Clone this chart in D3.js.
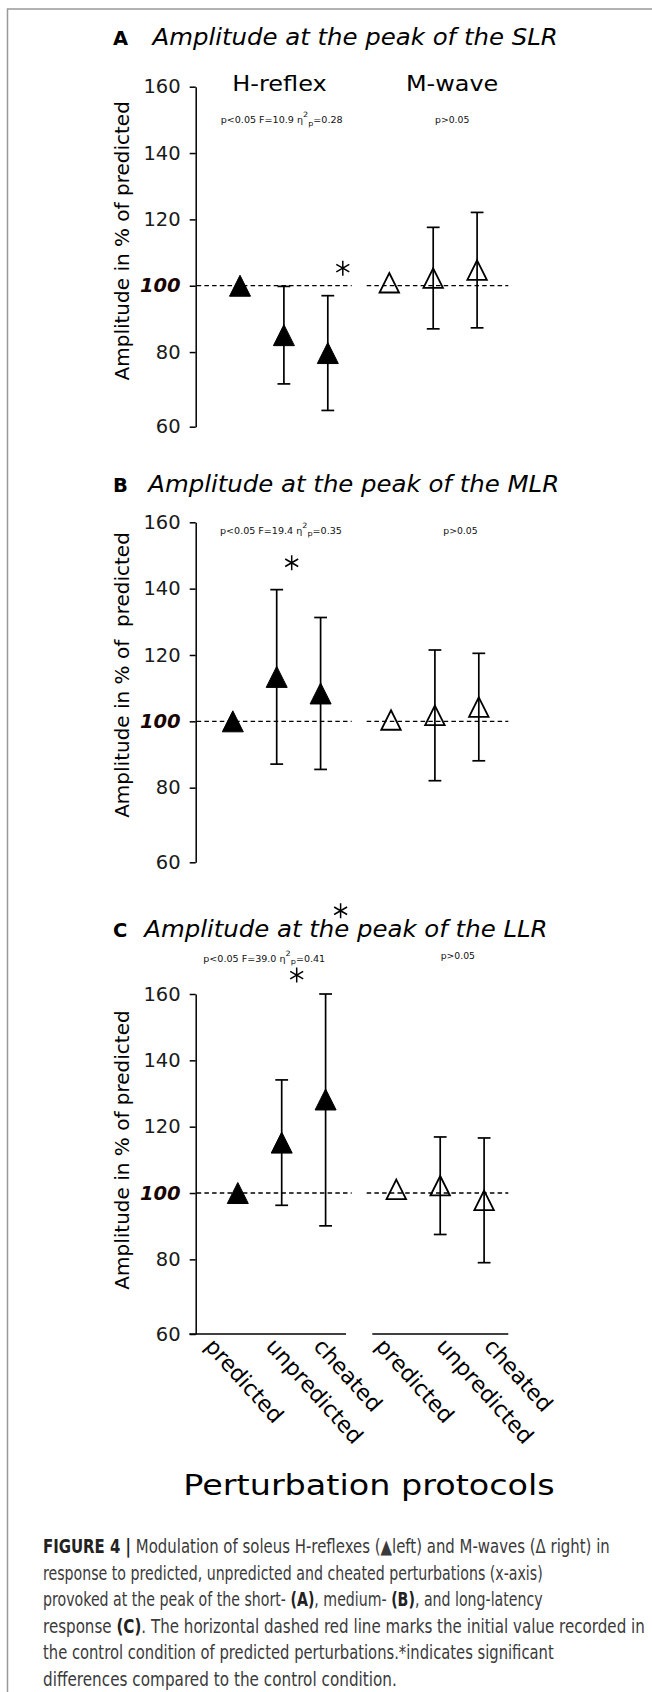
<!DOCTYPE html>
<html>
<head>
<meta charset="utf-8">
<script src="https://cdn.jsdelivr.net/npm/d3@7"></script>
<style>
  body { margin: 0; background: #fff; }
  svg { display: block; }
  text { font-family: "DejaVu Sans", sans-serif; }
</style>
</head>
<body>
<div id="holder"></div>
<script>
const w = 652;
const h = 1692;

// DATA
const groups = ["H-reflex", "M-wave"];
const conditions = ["predicted", "unpredicted", "cheated"];
const panelLetters = ["A", "B", "C"];
const titles = ["Amplitude at the peak of the SLR", "Amplitude at the peak of the MLR", "Amplitude at the peak of the LLR"];
const yLabels = ["Amplitude in % of predicted", "Amplitude in % of  predicted", "Amplitude in % of predicted"];

// means and half error bars, order: predicted, unpredicted, cheated
const hMeanA = [100, 85.1, 79.7];
const hErrA = [0, 14.7, 17.3];
const mMeanA = [100.9, 102.3, 104.7];
const mErrA = [0, 15.3, 17.4];

const hMeanB = [100, 113.4, 108.4];
const hErrB = [0, 26.3, 22.9];
const mMeanB = [100.4, 101.8, 104.3];
const mErrB = [0, 19.7, 16.2];

const hMeanC = [100, 115.2, 128.2];
const hErrC = [0, 18.9, 38.1];
const mMeanC = [101.1, 102.2, 97.8];
const mErrC = [0, 14.7, 18.8];

// significance stars (H-reflex), [condition, value]
const starsA = [["cheated", 105.3]];
const starsB = [["unpredicted", 147.8]];
const starsC = [["unpredicted", 165.7], ["cheated", 185.1]];

// stats
const statF = ["10.9", "19.4", "39.0"];
const statEta = ["0.28", "0.35", "0.41"];
const statM = "p>0.05";

// y axis
const yMin = 57.5;
const yMax = 160;
const refValue = 100;
const yTickValues = [57.5, 80, 100, 120, 140, 160];
const yTickLabels = ["60", "80", "100", "120", "140", "160"];

const xTitle = "Perturbation protocols";
const caption = [
  "**FIGURE 4 |** Modulation of soleus H-reflexes (▲left) and M-waves (Δ right) in",
  "response to predicted, unpredicted and cheated perturbations (x-axis)",
  "provoked at the peak of the short- **(A)**, medium- **(B)**, and long-latency",
  "response **(C)**. The horizontal dashed red line marks the initial value recorded in",
  "the control condition of predicted perturbations.*indicates significant",
  "differences compared to the control condition."
];

const panelData = [
  { h: hMeanA, he: hErrA, m: mMeanA, me: mErrA, stars: starsA },
  { h: hMeanB, he: hErrB, m: mMeanB, me: mErrB, stars: starsB },
  { h: hMeanC, he: hErrC, m: mMeanC, me: mErrC, stars: starsC }
];

// LAYOUT
const axisX = 195.7;
const axisLen = 340;
const panelTop = [86.7, 522.3, 994];
const hStart = [240, 232.8, 237.8];
const mStart = [389.3, 391, 396.3];
const step = 43.9;
const dashH = [196.7, 351.7];
const dashM = [366.7, 508.3];
const titleX = [152.5, 148.3, 144.2];
const titleY = [45, 491.7, 936.7];
const letterX = 113;
const statHX = [220.7, 220, 203.3];
const statHY = [123.3, 534, 961.7];
const statMX = [435, 443.3, 440.7];
const statMY = [123.3, 534, 959.3];
const yLabelY = [240.8, 675, 1150];

// CREATE SVG
const svg = d3.select("#holder")
    .append("svg")
    .attr("width", w)
    .attr("height", h);

svg.append("rect").attr("width", w).attr("height", h).attr("fill", "#fff");

// frame
svg.append("path")
    .attr("d", "M7.5," + h + "V9H" + w)
    .attr("fill", "none")
    .attr("stroke", "#999")
    .attr("stroke-width", 1.5);

// text stretched horizontally to a given width
function addText(parent, x, y, width, build) {
    const g = parent.append("g");
    const t = g.append("text");
    build(t);
    const natural = t.node().getComputedTextLength();
    g.attr("transform", "translate(" + x + "," + y + ") scale(" + (width / natural) + ",1)");
    return t;
}

// matplotlib-like triangle marker
const triUp = {
    draw(ctx, size) {
        const r = Math.sqrt(size) / 2;
        ctx.moveTo(0, -r);
        ctx.lineTo(r, r);
        ctx.lineTo(-r, r);
        ctx.closePath();
    }
};

panelData.forEach((pd, p) => {
    const top = panelTop[p];
    const bottom = top + axisLen;

    const y = d3.scaleLinear().domain([yMin, yMax]).range([bottom, top]);
    const xH = d3.scalePoint().domain(conditions).range([hStart[p], hStart[p] + 2 * step]);
    const xM = d3.scalePoint().domain(conditions).range([mStart[p], mStart[p] + 2 * step]);

    const g = svg.append("g");

    // panel letter + title
    g.append("text")
        .attr("x", letterX)
        .attr("y", titleY[p])
        .attr("font-family", "Liberation Sans, Arial, sans-serif")
        .attr("font-weight", "bold")
        .attr("font-size", 19.5)
        .text(panelLetters[p]);

    const tg = g.append("g").attr("transform", "translate(" + titleX[p] + "," + titleY[p] + ") scale(1.061,1)");
    tg.append("text")
        .attr("font-style", "italic")
        .attr("font-size", 23)
        .text(titles[p]);

    // group headings only in the first panel
    if (p === 0) {
        addText(g, 232.3, 90.7, 94.4, t => t.attr("font-size", 21.5).text(groups[0]));
        addText(g, 406, 90.7, 92.3, t => t.attr("font-size", 21.5).text(groups[1]));
    }

    // stats
    addText(g, statHX[p], statHY[p], 122, t => {
        t.attr("font-size", 8.7).attr("fill", "#111");
        t.append("tspan").text("p<0.05 F=" + statF[p] + " η");
        t.append("tspan").attr("font-size", "0.85em").attr("dy", -6).text("2");
        t.append("tspan").attr("font-size", "0.85em").attr("dy", 8.4).text("p");
        t.append("tspan").attr("dy", -2.4).text("=" + statEta[p]);
    });
    addText(g, statMX[p], statMY[p], 34.3, t => t.attr("font-size", 8.7).attr("fill", "#111").text(statM));

    // y axis
    const yAxis = d3.axisLeft(y)
        .tickValues(yTickValues)
        .tickFormat((d, i) => yTickLabels[i])
        .tickSize(6)
        .tickSizeOuter(0)
        .tickPadding(9);

    const ya = g.append("g")
        .attr("transform", "translate(" + axisX + ",0)")
        .call(yAxis);
    ya.select(".domain").attr("stroke-width", 1.5);
    ya.selectAll(".tick line").attr("stroke-width", 1.5);
    ya.selectAll(".tick text")
        .attr("font-family", "DejaVu Sans, sans-serif")
        .attr("font-size", 19.5)
        .attr("fill", "#1a1a1a")
        .filter(d => d === refValue)
        .attr("font-weight", "bold")
        .attr("font-style", "italic")
        .attr("fill", "#1a0505");

    // y label
    g.append("text")
        .attr("transform", "translate(128.6," + yLabelY[p] + ") rotate(-90)")
        .attr("text-anchor", "middle")
        .attr("font-size", 20)
        .style("white-space", "pre")
        .text(yLabels[p]);

    // reference dashed lines
    [dashH, dashM].forEach(ext => {
        g.append("line")
            .attr("x1", ext[0]).attr("x2", ext[1])
            .attr("y1", y(refValue)).attr("y2", y(refValue))
            .attr("stroke", "#000")
            .attr("stroke-width", 1.3)
            .attr("stroke-dasharray", "4.5,3.2");
    });

    // bottom spines and x labels only in the last panel
    if (p === 2) {
        [[189.3, 346], [372.3, 508.3]].forEach(ext => {
            g.append("line")
                .attr("x1", ext[0]).attr("x2", ext[1])
                .attr("y1", bottom).attr("y2", bottom)
                .attr("stroke", "#000")
                .attr("stroke-width", 1.5);
        });
        const condLabelShift = [-34, -17, -13];
        const groupLabelShift = [0, 12];
        [xH, xM].forEach((xs, gi) => {
            conditions.forEach((c, i) => {
                const lx = xs(c) + condLabelShift[i] + groupLabelShift[gi];
                g.append("text")
                    .attr("transform", "translate(" + lx + "," + (bottom + 13) + ") rotate(48)")
                    .attr("font-size", 22)
                    .text(c);
            });
        });
    }

    // error bars and markers
    const series = [
        { xs: xH, mean: pd.h, err: pd.he, filled: true },
        { xs: xM, mean: pd.m, err: pd.me, filled: false }
    ];
    series.forEach(s => {
        const rows = conditions.map((c, i) => ({ c: c, m: s.mean[i], e: s.err[i] }));
        const eb = g.append("g")
            .attr("stroke", "#000")
            .attr("stroke-width", 1.7);
        rows.filter(d => d.e > 0).forEach(d => {
            const lo = y(Math.max(yMin, d.m - d.e));
            const hi = y(Math.min(yMax, d.m + d.e));
            const x = s.xs(d.c);
            eb.append("line").attr("x1", x).attr("x2", x).attr("y1", lo).attr("y2", hi);
            eb.append("line").attr("x1", x - 6.4).attr("x2", x + 6.4).attr("y1", lo).attr("y2", lo);
            eb.append("line").attr("x1", x - 6.4).attr("x2", x + 6.4).attr("y1", hi).attr("y2", hi);
        });
        g.selectAll(null)
            .data(rows)
            .enter()
            .append("path")
            .attr("d", d3.symbol(triUp, s.filled ? 441 : 380))
            .attr("transform", d => "translate(" + s.xs(d.c) + "," + y(d.m) + ")")
            .attr("fill", s.filled ? "#000" : "none")
            .attr("stroke", "#000")
            .attr("stroke-width", s.filled ? 1 : 1.8)
            .attr("stroke-linejoin", "miter");
    });

    // stars
    g.selectAll(null)
        .data(pd.stars)
        .enter()
        .append("path")
        .attr("d", d3.symbol(d3.symbolAsterisk, 158))
        .attr("transform", d => "translate(" + (xH(d[0]) + 15) + "," + y(d[1]) + ")")
        .attr("fill", "none")
        .attr("stroke", "#000")
        .attr("stroke-width", 1.5);
});

// x axis title
addText(svg, 183.3, 1495, 371.7, t => t.attr("font-size", 28).text(xTitle));

// caption
const capWidths = [567, 500, 500, 602, 511, 354];
caption.forEach((line, i) => {
    addText(svg, 43, 1553 + i * 26.6, capWidths[i], t => {
        t.attr("font-family", "Liberation Sans Narrow, Liberation Sans, Arial, sans-serif")
            .attr("font-size", 19.5)
            .attr("fill", "#3a3a3a");
        line.split("**").forEach((part, k) => {
            if (!part) return;
            t.append("tspan")
                .attr("font-weight", k % 2 ? "bold" : "normal")
                .attr("fill", k % 2 ? "#222" : null)
                .style("white-space", "pre")
                .text(part);
        });
    });
});
</script>
</body>
</html>
